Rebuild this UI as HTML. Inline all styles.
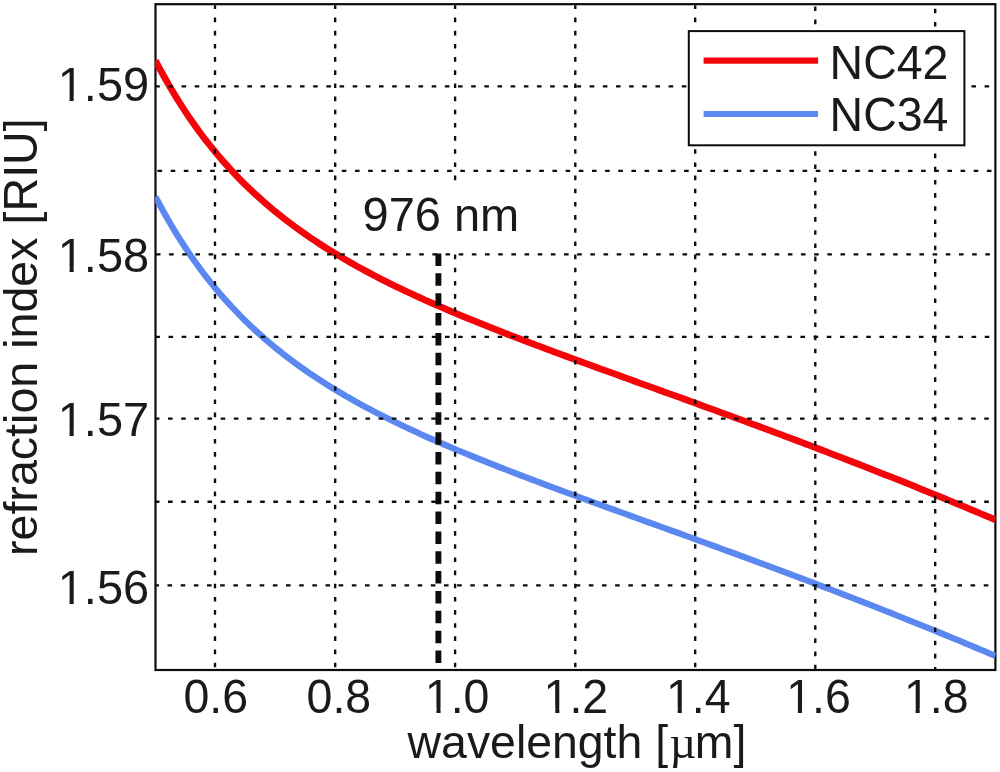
<!DOCTYPE html>
<html lang="en"><head><meta charset="utf-8"><title>Refraction index vs wavelength</title>
<style>
html,body{margin:0;padding:0;background:#fff;}
body{width:1000px;height:772px;overflow:hidden;}
svg{display:block;}
text{font-family:"Liberation Sans",Arial,Helvetica,sans-serif;fill:#1c191a;}
text.mu{font-family:"Liberation Serif","DejaVu Serif",serif;}
</style></head><body>
<svg width="1000" height="772" viewBox="0 0 1000 772">
<rect x="0" y="0" width="1000" height="772" fill="#ffffff"/>

<rect x="155.5" y="4.2" width="839.9" height="665.8" fill="none" stroke="#0c0c0c" stroke-width="2.2"/>
<clipPath id="cp"><rect x="155.2" y="4.2" width="840.5" height="665.8"/></clipPath>
<g fill="none" stroke-linejoin="round" stroke-linecap="butt" clip-path="url(#cp)">
<path d="M155.4,196.7 L160.4,206.1 L165.4,215.1 L170.4,223.8 L175.4,232.1 L180.4,240.1 L185.4,247.8 L190.4,255.2 L195.4,262.3 L200.4,269.2 L205.4,275.8 L210.4,282.1 L215.4,288.3 L220.4,294.2 L225.4,299.9 L230.4,305.4 L235.4,310.7 L240.4,315.9 L245.4,320.9 L250.4,325.7 L255.4,330.4 L260.4,334.9 L265.4,339.3 L270.4,343.6 L275.4,347.8 L280.4,351.8 L285.4,355.7 L290.4,359.5 L295.4,363.2 L300.4,366.9 L305.4,370.4 L310.4,373.8 L315.4,377.2 L320.4,380.4 L325.4,383.6 L330.4,386.8 L335.4,389.8 L340.4,392.8 L345.4,395.8 L350.4,398.6 L355.4,401.5 L360.4,404.2 L365.4,406.9 L370.4,409.6 L375.4,412.2 L380.4,414.8 L385.4,417.3 L390.4,419.8 L395.4,422.3 L400.4,424.7 L405.4,427.0 L410.4,429.4 L415.4,431.7 L420.4,434.0 L425.4,436.3 L430.4,438.5 L435.4,440.7 L440.4,442.9 L445.4,445.0 L450.4,447.2 L455.4,449.3 L460.4,451.4 L465.4,453.4 L470.4,455.5 L475.4,457.5 L480.4,459.5 L485.4,461.5 L490.4,463.5 L495.4,465.5 L500.4,467.5 L505.4,469.4 L510.4,471.4 L515.4,473.3 L520.4,475.2 L525.4,477.1 L530.4,479.0 L535.4,480.9 L540.4,482.8 L545.4,484.7 L550.4,486.5 L555.4,488.4 L560.4,490.2 L565.4,492.1 L570.4,493.9 L575.4,495.8 L580.4,497.6 L585.4,499.4 L590.4,501.2 L595.4,503.1 L600.4,504.9 L605.4,506.7 L610.4,508.5 L615.4,510.3 L620.4,512.1 L625.4,513.9 L630.4,515.7 L635.4,517.6 L640.4,519.4 L645.4,521.2 L650.4,523.0 L655.4,524.8 L660.4,526.6 L665.4,528.4 L670.4,530.2 L675.4,532.0 L680.4,533.8 L685.4,535.6 L690.4,537.4 L695.4,539.2 L700.4,541.1 L705.4,542.9 L710.4,544.7 L715.4,546.5 L720.4,548.4 L725.4,550.2 L730.4,552.0 L735.4,553.8 L740.4,555.7 L745.4,557.5 L750.4,559.4 L755.4,561.2 L760.4,563.1 L765.4,564.9 L770.4,566.8 L775.4,568.6 L780.4,570.5 L785.4,572.4 L790.4,574.3 L795.4,576.1 L800.4,578.0 L805.4,579.9 L810.4,581.8 L815.4,583.7 L820.4,585.6 L825.4,587.5 L830.4,589.4 L835.4,591.4 L840.4,593.3 L845.4,595.2 L850.4,597.1 L855.4,599.1 L860.4,601.0 L865.4,603.0 L870.4,604.9 L875.4,606.9 L880.4,608.9 L885.4,610.9 L890.4,612.8 L895.4,614.8 L900.4,616.8 L905.4,618.8 L910.4,620.8 L915.4,622.8 L920.4,624.8 L925.4,626.9 L930.4,628.9 L935.4,630.9 L940.4,633.0 L945.4,635.0 L950.4,637.1 L955.4,639.1 L960.4,641.2 L965.4,643.3 L970.4,645.4 L975.4,647.5 L980.4,649.6 L985.4,651.7 L990.4,653.8 L995.4,655.9" stroke="#5a88f0" stroke-width="6.3"/>
<path d="M155.4,60.6 L160.4,70.0 L165.4,79.0 L170.4,87.7 L175.4,96.0 L180.4,104.0 L185.4,111.7 L190.4,119.1 L195.4,126.2 L200.4,133.1 L205.4,139.7 L210.4,146.0 L215.4,152.2 L220.4,158.1 L225.4,163.8 L230.4,169.3 L235.4,174.7 L240.4,179.8 L245.4,184.8 L250.4,189.6 L255.4,194.3 L260.4,198.8 L265.4,203.2 L270.4,207.5 L275.4,211.7 L280.4,215.7 L285.4,219.6 L290.4,223.4 L295.4,227.1 L300.4,230.8 L305.4,234.3 L310.4,237.7 L315.4,241.1 L320.4,244.4 L325.4,247.6 L330.4,250.7 L335.4,253.7 L340.4,256.7 L345.4,259.7 L350.4,262.5 L355.4,265.4 L360.4,268.1 L365.4,270.8 L370.4,273.5 L375.4,276.1 L380.4,278.7 L385.4,281.2 L390.4,283.7 L395.4,286.2 L400.4,288.6 L405.4,291.0 L410.4,293.3 L415.4,295.6 L420.4,297.9 L425.4,300.2 L430.4,302.4 L435.4,304.6 L440.4,306.8 L445.4,308.9 L450.4,311.1 L455.4,313.2 L460.4,315.3 L465.4,317.3 L470.4,319.4 L475.4,321.4 L480.4,323.4 L485.4,325.4 L490.4,327.4 L495.4,329.4 L500.4,331.4 L505.4,333.3 L510.4,335.3 L515.4,337.2 L520.4,339.1 L525.4,341.0 L530.4,342.9 L535.4,344.8 L540.4,346.7 L545.4,348.6 L550.4,350.4 L555.4,352.3 L560.4,354.1 L565.4,356.0 L570.4,357.8 L575.4,359.7 L580.4,361.5 L585.4,363.3 L590.4,365.1 L595.4,367.0 L600.4,368.8 L605.4,370.6 L610.4,372.4 L615.4,374.2 L620.4,376.0 L625.4,377.8 L630.4,379.7 L635.4,381.5 L640.4,383.3 L645.4,385.1 L650.4,386.9 L655.4,388.7 L660.4,390.5 L665.4,392.3 L670.4,394.1 L675.4,395.9 L680.4,397.7 L685.4,399.5 L690.4,401.3 L695.4,403.2 L700.4,405.0 L705.4,406.8 L710.4,408.6 L715.4,410.4 L720.4,412.3 L725.4,414.1 L730.4,415.9 L735.4,417.8 L740.4,419.6 L745.4,421.4 L750.4,423.3 L755.4,425.1 L760.4,427.0 L765.4,428.8 L770.4,430.7 L775.4,432.6 L780.4,434.4 L785.4,436.3 L790.4,438.2 L795.4,440.0 L800.4,441.9 L805.4,443.8 L810.4,445.7 L815.4,447.6 L820.4,449.5 L825.4,451.4 L830.4,453.3 L835.4,455.3 L840.4,457.2 L845.4,459.1 L850.4,461.1 L855.4,463.0 L860.4,464.9 L865.4,466.9 L870.4,468.9 L875.4,470.8 L880.4,472.8 L885.4,474.8 L890.4,476.7 L895.4,478.7 L900.4,480.7 L905.4,482.7 L910.4,484.7 L915.4,486.7 L920.4,488.8 L925.4,490.8 L930.4,492.8 L935.4,494.8 L940.4,496.9 L945.4,498.9 L950.4,501.0 L955.4,503.1 L960.4,505.1 L965.4,507.2 L970.4,509.3 L975.4,511.4 L980.4,513.5 L985.4,515.6 L990.4,517.7 L995.4,519.8" stroke="#f40509" stroke-width="6.7"/>
</g>
<g stroke="#0c0c0c" stroke-width="2.35" stroke-dasharray="4.6 8.565" fill="none">
<line x1="156.1" y1="86.4" x2="994.4" y2="86.4" stroke-dashoffset="0.90"/>
<line x1="157.5" y1="170.8" x2="994.4" y2="170.8"/>
<line x1="156.1" y1="254.4" x2="994.4" y2="254.4" stroke-dashoffset="0.20"/>
<line x1="156.1" y1="336.9" x2="994.4" y2="336.9" stroke-dashoffset="0.75"/>
<line x1="156.1" y1="418.6" x2="994.4" y2="418.6" stroke-dashoffset="1.25"/>
<line x1="156.1" y1="501.7" x2="994.4" y2="501.7" stroke-dashoffset="1.25"/>
<line x1="156.1" y1="585.4" x2="994.4" y2="585.4" stroke-dashoffset="1.75"/>
<line x1="215.0" y1="667.3" x2="215.0" y2="5.2"/>
<line x1="335.2" y1="667.3" x2="335.2" y2="5.2"/>
<line x1="455.1" y1="667.3" x2="455.1" y2="5.2"/>
<line x1="575.3" y1="667.3" x2="575.3" y2="5.2"/>
<line x1="695.2" y1="667.3" x2="695.2" y2="5.2"/>
<line x1="815.3" y1="669.3" x2="815.3" y2="5.2"/>
<line x1="935.2" y1="669.4" x2="935.2" y2="5.2" stroke-dashoffset="2.20"/>
</g>
<rect x="356" y="182" width="170" height="70.5" fill="#fff"/>
<line x1="438.4" y1="253.5" x2="438.4" y2="663.2" stroke="#0c0c0c" stroke-width="5.9" stroke-dasharray="12.5 7.35"/>
<rect x="688.8" y="31.1" width="275.6" height="114.2" fill="#fff" stroke="#0c0c0c" stroke-width="2"/>
<line x1="703.6" y1="60.6" x2="818.1" y2="60.6" stroke="#f40509" stroke-width="6.4"/>
<line x1="703.6" y1="114" x2="818.1" y2="114" stroke="#5a88f0" stroke-width="6.1"/>
<text transform="translate(829.6,79.2) scale(1.0,1.025)" font-size="46.5">NC42</text>
<text transform="translate(829.6,130.6) scale(1.0,1.025)" font-size="46.5">NC34</text>
<text transform="translate(362.5,230.5) scale(1.0,1.04)" font-size="47">976</text>
<text transform="translate(453.962,230.5)" font-size="47">nm</text>
<text transform="translate(149.2,101.3) scale(1.0,1.04)" font-size="47" text-anchor="end">1.59</text>
<rect x="60.30" y="96.75" width="9.24" height="5.45" fill="#fff"/><rect x="73.70" y="96.75" width="8.87" height="5.45" fill="#fff"/>
<text transform="translate(149.2,271.9) scale(1.0,1.04)" font-size="47" text-anchor="end">1.58</text>
<rect x="60.30" y="267.35" width="9.24" height="5.45" fill="#fff"/><rect x="73.70" y="267.35" width="8.87" height="5.45" fill="#fff"/>
<text transform="translate(149.2,435.7) scale(1.0,1.04)" font-size="47" text-anchor="end">1.57</text>
<rect x="60.30" y="431.15" width="9.24" height="5.45" fill="#fff"/><rect x="73.70" y="431.15" width="8.87" height="5.45" fill="#fff"/>
<text transform="translate(149.2,604.3) scale(1.0,1.04)" font-size="47" text-anchor="end">1.56</text>
<rect x="60.30" y="599.75" width="9.24" height="5.45" fill="#fff"/><rect x="73.70" y="599.75" width="8.87" height="5.45" fill="#fff"/>
<text transform="translate(215.7,712.5) scale(1.0,1.04)" font-size="46.5" text-anchor="middle">0.6</text>
<text transform="translate(338.9,712.5) scale(1.0,1.04)" font-size="46.5" text-anchor="middle">0.8</text>
<text transform="translate(457.1,712.5) scale(1.0,1.04)" font-size="46.5" text-anchor="middle">1.0</text>
<rect x="427.32" y="707.99" width="9.15" height="5.41" fill="#fff"/><rect x="440.58" y="707.99" width="8.79" height="5.41" fill="#fff"/>
<text transform="translate(575.9,712.5) scale(1.0,1.04)" font-size="46.5" text-anchor="middle">1.2</text>
<rect x="546.12" y="707.99" width="9.15" height="5.41" fill="#fff"/><rect x="559.38" y="707.99" width="8.79" height="5.41" fill="#fff"/>
<text transform="translate(698.3,712.5) scale(1.0,1.04)" font-size="46.5" text-anchor="middle">1.4</text>
<rect x="668.52" y="707.99" width="9.15" height="5.41" fill="#fff"/><rect x="681.78" y="707.99" width="8.79" height="5.41" fill="#fff"/>
<text transform="translate(818.5,712.5) scale(1.0,1.04)" font-size="46.5" text-anchor="middle">1.6</text>
<rect x="788.72" y="707.99" width="9.15" height="5.41" fill="#fff"/><rect x="801.98" y="707.99" width="8.79" height="5.41" fill="#fff"/>
<text transform="translate(936.2,712.5) scale(1.0,1.04)" font-size="46.5" text-anchor="middle">1.8</text>
<rect x="906.42" y="707.99" width="9.15" height="5.41" fill="#fff"/><rect x="919.68" y="707.99" width="8.79" height="5.41" fill="#fff"/>
<text transform="translate(407.6,758.2)" font-size="46.4">wavelength [</text>
<text transform="translate(669.5896,758.2)" font-size="46.4" class="mu">µ</text>
<text transform="translate(694.816,758.2)" font-size="46.4">m]</text>
<text transform="translate(36.7,556.0) rotate(-90)" font-size="46.6">refraction index [</text>
<text transform="translate(36.7,211.505859375) rotate(-90) scale(1.0,1.04)" font-size="46.6">RIU</text>
<text transform="translate(36.7,131.25283203125) rotate(-90)" font-size="46.6">]</text>
</svg></body></html>
